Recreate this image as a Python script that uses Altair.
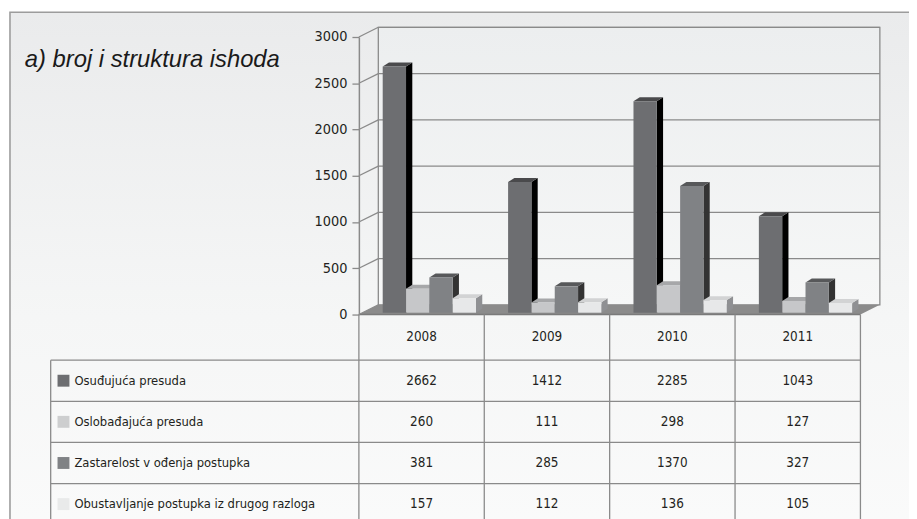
import altair as alt
import pandas as pd

# ---------------- data ----------------
years = ["2008", "2009", "2010", "2011"]
series_names = [
    "Osuđujuća presuda",
    "Oslobađajuća presuda",
    "Zastarelost v ođenja postupka",
    "Obustavljanje postupka iz drugog razloga",
]
osudjujuca_presuda = [2662, 1412, 2285, 1043]
oslobadjajuca_presuda = [260, 111, 298, 127]
zastarelost = [381, 285, 1370, 327]
obustavljanje = [157, 112, 136, 105]
y_ticks = [0, 500, 1000, 1500, 2000, 2500, 3000]
chart_title = "a) broj i struktura ishoda"

# ---------------- styles / layout ----------------
front_colors = ["#6d6e71", "#c6c7c9", "#808285", "#e7e8e9"]
side_colors = ["#000000", "#9a9b9d", "#333333", "#8f9093"]
top_colors = ["#4a4a4c", "#a6a7a9", "#57585a", "#d2d3d4"]
legend_colors = ["#6d6e71", "#cdcecf", "#808285", "#e9eaea"]
FONT = "Liberation Sans Narrow, DejaVu Sans Condensed, Arial Narrow, sans-serif"
TXT = "#231f20"
LINE = "#8a8a8a"

W, H = 909, 511
x_scale = alt.Scale(domain=[0, 4], range=[354, 860], nice=False, zero=False)
v_scale = alt.Scale(domain=[0, 3000], range=[307, 27], nice=False, zero=False)
r_scale = alt.Scale(domain=[0, 5], range=[353, 560.5], nice=False, zero=False)

WALL_DX, WALL_DV = 0.155, 105
BAR_START, BAR_W, BAR_DX, BAR_DV, BAR_BASE = 0.19, 0.186, 0.05, 43, 20
LABEL_LEFT, SQUARE_X, LABEL_TEXT_X = -2.458, -2.356, -2.269
HEADER_TOP, HEADER_MID = -1.108, -0.554

all_vals = [osudjujuca_presuda, oslobadjajuca_presuda, zastarelost, obustavljanje]

fronts, sides, tops = [], [], []
for i, yr in enumerate(years):
    for s, name in enumerate(series_names):
        v = all_vals[s][i]
        bid = f"{yr}-{s}"
        x0 = i + BAR_START + s * BAR_W
        x1 = x0 + BAR_W
        base, top = BAR_BASE, v + BAR_BASE
        fronts.append(dict(series=name, x0=x0, x1=x1, base=base, top=top))
        sides += [
            dict(bar=bid, series=name, x=x1, y=top, y2=base),
            dict(bar=bid, series=name, x=x1 + BAR_DX, y=top + BAR_DV, y2=base + BAR_DV),
        ]
        tops += [
            dict(bar=bid, series=name, x=x0, y=top, y2=top),
            dict(bar=bid, series=name, x=x0 + BAR_DX, y=top + BAR_DV, y2=top),
            dict(bar=bid, series=name, x=x1, y=top + BAR_DV, y2=top),
            dict(bar=bid, series=name, x=x1 + BAR_DX, y=top + BAR_DV, y2=top + BAR_DV),
        ]
fronts_df, sides_df, tops_df = pd.DataFrame(fronts), pd.DataFrame(sides), pd.DataFrame(tops)

one = pd.DataFrame({"k": [0]})

def X(f):
    return alt.X(f, scale=x_scale, axis=None)

def V(f):
    return alt.Y(f, scale=v_scale, axis=None, stack=None)

def R(f):
    return alt.Y(f, scale=r_scale, axis=None, stack=None)

# background with gradient and frame
bg = alt.Chart(one).mark_rect(
    fill=alt.LinearGradient(
        gradient="linear",
        stops=[
            alt.GradientStop(color="#eaebec", offset=0),
            alt.GradientStop(color="#f5f6f6", offset=0.55),
            alt.GradientStop(color="#fbfbfb", offset=1),
        ],
        x1=0, x2=0, y1=0, y2=1,
    ),
    stroke="#9c9c9c",
    strokeWidth=1.6,
).encode(x=alt.value(2), x2=alt.value(960), y=alt.value(2), y2=alt.value(560))

# back wall
wall_df = pd.DataFrame({"x": [WALL_DX], "x2": [4 + WALL_DX], "v": [WALL_DV], "v2": [3000 + WALL_DV]})
wall = alt.Chart(wall_df).mark_rect(
    fill=alt.LinearGradient(
        gradient="linear",
        stops=[alt.GradientStop(color="#eceeef", offset=0), alt.GradientStop(color="#f6f7f7", offset=1)],
        x1=0, x2=0, y1=0, y2=1,
    ),
    stroke=LINE,
    strokeWidth=1.3,
).encode(x=X("x:Q"), x2="x2:Q", y=V("v2:Q"), y2="v:Q")

grid_df = pd.DataFrame({"x": WALL_DX, "x2": 4 + WALL_DX, "v": [t + WALL_DV for t in y_ticks[1:]]})
grid = alt.Chart(grid_df).mark_rule(color=LINE, strokeWidth=1.3).encode(
    x=X("x:Q"), x2="x2:Q", y=V("v:Q")
)

diag_df = pd.DataFrame({"x": 0.0, "x2": WALL_DX, "v": y_ticks, "v2": [t + WALL_DV for t in y_ticks]})
diag = alt.Chart(diag_df).mark_rule(color=LINE, strokeWidth=1.3).encode(
    x=X("x:Q"), x2="x2:Q", y=V("v:Q"), y2="v2:Q"
)

floor_df = pd.DataFrame({
    "x": [0, WALL_DX, 4, 4 + WALL_DX],
    "y": [0, WALL_DV, WALL_DV, WALL_DV],
    "y2": [0, 0, 0, WALL_DV],
})
floor = alt.Chart(floor_df).mark_area(orient="vertical", color="#8b8b8b").encode(
    x=X("x:Q"), y=V("y:Q"), y2="y2:Q"
)

# bars
side_layer = alt.Chart(sides_df).mark_area(orient="vertical").encode(
    x=X("x:Q"), y=V("y:Q"), y2="y2:Q", detail="bar:N",
    color=alt.Color("series:N", scale=alt.Scale(domain=series_names, range=side_colors), legend=None),
)
top_layer = alt.Chart(tops_df).mark_area(orient="vertical").encode(
    x=X("x:Q"), y=V("y:Q"), y2="y2:Q", detail="bar:N",
    color=alt.Color("series:N", scale=alt.Scale(domain=series_names, range=top_colors), legend=None),
)
front_layer = alt.Chart(fronts_df).mark_rect().encode(
    x=X("x0:Q"), x2="x1:Q",
    y=alt.Y("top:Q", scale=v_scale, stack=None,
            axis=alt.Axis(values=y_ticks, offset=-354, title=None, grid=False, zindex=2,
                          domainColor=LINE, domainWidth=1.5, tickColor=LINE, tickWidth=1.3,
                          tickSize=7, labelPadding=5, labelFont=FONT, labelFontSize=14.5,
                          labelColor=TXT, format="d")),
    y2="base:Q",
    color=alt.Color("series:N", scale=alt.Scale(domain=series_names, range=front_colors), legend=None),
)

# table lines
front_edge_df = pd.DataFrame({"x": [0.0], "x2": [4.0], "v": [0]})
front_edge = alt.Chart(front_edge_df).mark_rule(color="#7a7a7a", strokeWidth=1.4).encode(
    x=X("x:Q"), x2="x2:Q", y=V("v:Q")
)
vcols_df = pd.DataFrame({"x": [0, 1, 2, 3, 4], "r": HEADER_TOP, "r2": 5.0})
vcols = alt.Chart(vcols_df).mark_rule(color=LINE, strokeWidth=1.3).encode(
    x=X("x:Q"), y=R("r:Q"), y2="r2:Q"
)
vleft_df = pd.DataFrame({"x": [LABEL_LEFT], "r": [0.0], "r2": [5.0]})
vleft = alt.Chart(vleft_df).mark_rule(color=LINE, strokeWidth=1.3).encode(
    x=X("x:Q"), y=R("r:Q"), y2="r2:Q"
)
hrows_df = pd.DataFrame({"x": LABEL_LEFT, "x2": 4.0, "r": [0, 1, 2, 3, 4]})
hrows = alt.Chart(hrows_df).mark_rule(color=LINE, strokeWidth=1.3).encode(
    x=X("x:Q"), x2="x2:Q", y=R("r:Q")
)

# table text
head_df = pd.DataFrame({"year": years, "x": [i + 0.5 for i in range(4)], "r": HEADER_MID})
head = alt.Chart(head_df).mark_text(font=FONT, fontSize=13.5, color=TXT).encode(
    x=X("x:Q"), y=R("r:Q"), text="year:N"
)
cells = []
for s, name in enumerate(series_names):
    for i in range(4):
        cells.append(dict(x=i + 0.5, r=s + 0.5, val=str(all_vals[s][i])))
cells_df = pd.DataFrame(cells)
cell_text = alt.Chart(cells_df).mark_text(font=FONT, fontSize=13.5, color=TXT).encode(
    x=X("x:Q"), y=R("r:Q"), text="val:N"
)
lab_df = pd.DataFrame({"series": series_names, "r": [s + 0.5 for s in range(4)],
                       "xs": SQUARE_X, "xt": LABEL_TEXT_X})
lab_sq = alt.Chart(lab_df).mark_square(size=144, opacity=1).encode(
    x=X("xs:Q"), y=R("r:Q"),
    color=alt.Color("series:N", scale=alt.Scale(domain=series_names, range=legend_colors), legend=None),
)
lab_text = alt.Chart(lab_df).mark_text(font=FONT, fontSize=13, color=TXT, align="left").encode(
    x=X("xt:Q"), y=R("r:Q"), text="series:N"
)

title = alt.Chart(pd.DataFrame({"t": [chart_title]})).mark_text(
    font="Liberation Sans", fontSize=24, fontStyle="italic", color="#1a1a1a",
    align="left", baseline="alphabetic",
).encode(x=alt.value(17), y=alt.value(57), text="t:N")

chart = alt.layer(
    bg, wall, grid, diag, floor, side_layer, top_layer, front_layer,
    front_edge, vcols, vleft, hrows, head, cell_text, lab_sq, lab_text, title,
).resolve_scale(y="independent", color="independent").properties(
    width=W, height=H, autosize=alt.AutoSizeParams(type="none"), padding=0,
).configure_view(stroke=None)

chart.save("out.html", embed_options={"renderer": "svg", "actions": False})
